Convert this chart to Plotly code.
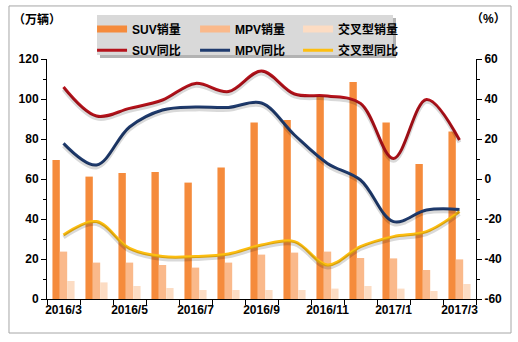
import plotly.graph_objects as go

months = ["2016/3", "2016/4", "2016/5", "2016/6", "2016/7", "2016/8", "2016/9",
          "2016/10", "2016/11", "2016/12", "2017/1", "2017/2", "2017/3"]
suv_sales = [69.5, 61.2, 63.0, 63.5, 58.2, 65.7, 88.2, 89.5, 101.5, 108.5, 88.2, 67.5, 83.7]
mpv_sales = [23.7, 18.2, 18.2, 17.0, 15.7, 18.2, 22.2, 23.2, 23.7, 20.5, 20.3, 14.5, 19.8]
cross_sales = [9.0, 8.3, 6.5, 5.5, 4.5, 4.5, 4.5, 4.5, 5.2, 6.5, 5.2, 4.0, 7.5]
suv_yoy = [46.0, 31.5, 35.3, 39.5, 47.8, 43.7, 54.0, 42.5, 41.5, 37.8, 10.3, 39.8, 19.5]
mpv_yoy = [17.8, 7.0, 26.0, 34.5, 36.0, 35.8, 38.0, 22.0, 7.8, -0.5, -21.3, -15.5, -15.2]
cross_yoy = [-28.0, -21.3, -34.7, -38.8, -38.8, -37.5, -33.0, -31.3, -43.0, -33.8, -28.8, -26.3, -16.3]

idx = list(range(len(months)))
FONT = "Liberation Sans, Arial, Noto Sans CJK SC, sans-serif"

fig = go.Figure()
bar_specs = [("SUV销量", suv_sales, "#F58B3C"),
             ("MPV销量", mpv_sales, "#FAB98B"),
             ("交叉型销量", cross_sales, "#FCDCC3")]
for name, vals, col in bar_specs:
    fig.add_trace(go.Bar(x=idx, y=vals, name=name, showlegend=False,
                         marker=dict(color=col, line=dict(width=0)), yaxis="y"))

line_specs = [("SUV同比", suv_yoy, "#B5121B"),
              ("MPV同比", mpv_yoy, "#1F3B6E"),
              ("交叉型同比", cross_yoy, "#FDBE10")]
# soft shadows under the lines
for name, vals, col in line_specs:
    fig.add_trace(go.Scatter(x=idx, y=vals, mode="lines", showlegend=False, hoverinfo="skip",
                             line=dict(color="rgba(0,0,0,0.15)", width=4, shape="spline", smoothing=1.0),
                             yaxis="y3"))
for name, vals, col in line_specs:
    fig.add_trace(go.Scatter(x=idx, y=vals, mode="lines", name=name, showlegend=False,
                             line=dict(color=col, width=3, shape="spline", smoothing=1.0),
                             yaxis="y2"))

# legend entries (legend-only keys)
for name, vals, col in bar_specs:
    fig.add_trace(go.Scatter(x=[None], y=[None], mode="lines", name=name, legend="legend",
                             line=dict(color=col, width=7)))
for name, vals, col in line_specs:
    fig.add_trace(go.Scatter(x=[None], y=[None], mode="lines", name=name, legend="legend2",
                             line=dict(color=col, width=3)))

axfont = dict(family=FONT, size=12, color="#000000", weight="bold")
legfont = dict(family=FONT, size=12, color="#000", weight="bold")
legcommon = dict(orientation="h", xanchor="left", yanchor="top", bgcolor="rgba(0,0,0,0)",
                 font=legfont, entrywidth=58, entrywidthmode="pixels", itemwidth=30,
                 tracegroupgap=0, traceorder="normal")
fig.update_layout(
    width=518, height=342,
    margin=dict(l=47, r=42, t=59, b=43),
    paper_bgcolor="white", plot_bgcolor="white",
    barmode="group", bargap=0.33, bargroupgap=0,
    font=dict(family=FONT, size=12, color="#000"),
    showlegend=True,
    legend=dict(x=0.105, y=1.185, **legcommon),
    legend2=dict(x=0.105, y=1.097, **legcommon),
    xaxis=dict(range=[-0.5, len(months) - 0.5], showgrid=False, zeroline=False,
               showline=True, linecolor="#000", linewidth=1,
               tickvals=idx[::2], ticktext=months[::2], ticks="", tickfont=axfont,
               minor=dict(tick0=-0.5, dtick=1, ticks="outside", ticklen=5, tickcolor="#000")),
    yaxis=dict(range=[0, 120], dtick=20, showgrid=False, zeroline=False,
               showline=True, linecolor="#000", linewidth=1, ticks="outside", ticklen=5,
               tickcolor="#000", tickfont=axfont,
               minor=dict(dtick=10, ticks="outside", ticklen=3, tickcolor="#000")),
    yaxis2=dict(range=[-60, 60], overlaying="y", side="right", showgrid=False, zeroline=False,
                showline=True, linecolor="#000", linewidth=1, ticks="outside", ticklen=5,
                tickcolor="#000", tickfont=axfont,
                tickvals=[-60, -40, -20, 0, 20, 40, 60],
                ticktext=["-60", "-40", "-20", "0", "20", "40", "60"],
                minor=dict(dtick=10, ticks="outside", ticklen=3, tickcolor="#000")),
    yaxis3=dict(range=[-58.8, 61.2], overlaying="y", visible=False),
    shapes=[
        dict(type="rect", xref="paper", yref="paper", x0=-0.0886, x1=1.0816, y0=-0.1417, y1=1.221,
             line=dict(color="#A6A6A6", width=1), fillcolor="rgba(0,0,0,0)", layer="below"),
        dict(type="rect", xref="paper", yref="paper", x0=0.1235, x1=0.8135, y0=1.004, y1=1.171,
             line=dict(width=0), fillcolor="#B3B3B3", layer="above"),
        dict(type="rect", xref="paper", yref="paper", x0=0.1166, x1=0.8065, y0=1.0167, y1=1.1833,
             line=dict(width=0), fillcolor="#D9D9D9", layer="above"),
    ],
    annotations=[
        dict(text="（万辆）", xref="paper", yref="paper", x=-0.085, y=1.205, xanchor="left",
             yanchor="top", showarrow=False, font=dict(family=FONT, size=12, color="#000", weight="bold")),
        dict(text="（%）", xref="paper", yref="paper", x=1.075, y=1.205, xanchor="right",
             yanchor="top", showarrow=False, font=dict(family=FONT, size=12, color="#000", weight="bold")),
    ],
)

fig.write_html("out.html")
